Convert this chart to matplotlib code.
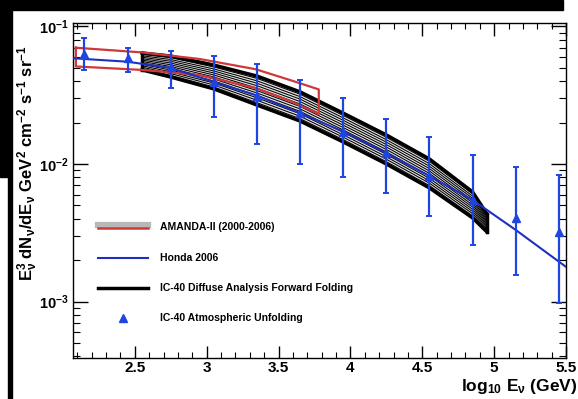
import numpy as np
import matplotlib
matplotlib.use('Agg')
import matplotlib.pyplot as plt
from matplotlib.ticker import MultipleLocator, LogLocator, NullFormatter
from matplotlib.patches import Rectangle

plt.rcParams['font.family'] = ['Liberation Sans', 'DejaVu Sans']
plt.rcParams['font.weight'] = 'bold'
plt.rcParams['mathtext.fontset'] = 'custom'
plt.rcParams['mathtext.rm'] = 'Liberation Sans:bold'
plt.rcParams['mathtext.it'] = 'Liberation Sans:bold'
plt.rcParams['mathtext.bf'] = 'Liberation Sans:bold'

# IC-40 atmospheric unfolding points
unf_x = [2.15, 2.45, 2.75, 3.05, 3.35, 3.65, 3.95, 4.25, 4.55, 4.85, 5.15, 5.45]
unf_y = [0.0630, 0.0586, 0.0506, 0.0394, 0.0314, 0.0234, 0.0172, 0.0120, 0.00818, 0.00548, 0.00405, 0.00322]
unf_hi = [0.0826, 0.0692, 0.0662, 0.0605, 0.0530, 0.0407, 0.0300, 0.0212, 0.0158, 0.0116, 0.00956, 0.00832]
unf_lo = [0.0482, 0.0468, 0.0356, 0.0218, 0.0140, 0.0100, 0.0081, 0.00612, 0.00419, 0.00258, 0.00156, 0.000984]

# Honda 2006 model
honda_x = [2.07, 2.45, 2.75, 3.05, 3.35, 3.65, 3.95, 4.25, 4.55, 4.85, 5.15, 5.5]
honda_y = [0.0586, 0.0553, 0.0498, 0.0394, 0.0314, 0.0234, 0.0172, 0.0120, 0.00818, 0.00548, 0.00332, 0.00179]

# AMANDA-II band
am_x = [2.09, 2.55, 2.95, 3.34, 3.58, 3.78]
am_up = [0.0699, 0.0646, 0.0579, 0.0488, 0.0407, 0.0348]
am_lo = [0.0511, 0.0482, 0.0443, 0.0356, 0.0287, 0.0231]

# IC-40 diffuse forward folding band
ff_x = [2.55, 2.75, 3.05, 3.35, 3.65, 3.95, 4.25, 4.55, 4.85, 4.95]
ff_up = [0.0640, 0.0608, 0.0523, 0.0435, 0.0334, 0.0234, 0.01626, 0.01087, 0.00627, 0.00434]
ff_lo = [0.0482, 0.0428, 0.0351, 0.0268, 0.0205, 0.01445, 0.0100, 0.00670, 0.00406, 0.00321]

red = '#d03838'
blue_line = '#1f2fc0'
blue_pt = '#1f45e0'

fig = plt.figure(figsize=(5.78, 3.99), dpi=100)
W, H = 578.0, 399.0
# black frame pieces of the screenshot
fig.patches.append(Rectangle((0, 1 - 10 / H), 563 / W, 10 / H, transform=fig.transFigure, color='black', zorder=0))
fig.patches.append(Rectangle((0, 1 - 177 / H), 12 / W, 177 / H, transform=fig.transFigure, color='black', zorder=0))
fig.patches.append(Rectangle((8 / W, 0), 4 / W, 1 - 177 / H, transform=fig.transFigure, color='black', zorder=0))

ax = fig.add_axes([73 / W, 1 - 358.3 / H, 493 / W, 335.6 / H])
ax.set_yscale('log')
ax.set_xlim(2.07, 5.5)
ax.set_ylim(3.88e-4, 0.1062)

# forward folding band
fx = np.array(ff_x)
up = np.array(ff_up)
lo = np.array(ff_lo)
ax.fill_between(fx, lo, up, color='#e4e4e4', lw=0, zorder=2)
for f in np.linspace(0.08, 0.92, 11):
    ax.plot(fx, up ** (1 - f) * lo ** f, color='black', lw=0.75, zorder=3)
ax.plot(fx, up, color='black', lw=2.5, zorder=3)
ax.plot(fx, lo, color='black', lw=2.5, zorder=3)
ax.plot([fx[0], fx[0]], [lo[0], up[0]], color='black', lw=2.5, zorder=3)
ax.plot([fx[-1], fx[-1]], [lo[-1], up[-1]], color='black', lw=2.5, zorder=3)

# AMANDA band outline
ax.plot(am_x + am_x[::-1] + [am_x[0]], am_up + am_lo[::-1] + [am_up[0]], color=red, lw=1.6, zorder=4)

# Honda
ax.plot(honda_x, honda_y, color=blue_line, lw=1.5, zorder=5)

# unfolding points
y = np.array(unf_y)
ax.errorbar(unf_x, unf_y, yerr=[y - np.array(unf_lo), np.array(unf_hi) - y], fmt='^',
            color=blue_pt, ms=6, elinewidth=1.6, capsize=2, capthick=1.4, zorder=6)

# ticks
ax.xaxis.set_minor_locator(MultipleLocator(0.1))
ax.yaxis.set_minor_locator(LogLocator(base=10, subs=np.arange(2, 10)))
ax.yaxis.set_minor_formatter(NullFormatter())
ax.set_xticks([2.5, 3, 3.5, 4, 4.5, 5, 5.5])
ax.set_xticklabels(['2.5', '3', '3.5', '4', '4.5', '5', '5.5'], fontsize=11, fontweight='bold')
ax.set_yticks([1e-3, 1e-2, 1e-1])
ax.set_yticklabels([r'$10^{-3}$', r'$10^{-2}$', r'$10^{-1}$'], fontsize=10.5)
ax.tick_params(axis='x', which='major', direction='in', length=9, width=1, top=True, pad=2)
ax.tick_params(axis='x', which='minor', direction='in', length=4, width=0.8, top=True)
ax.tick_params(axis='y', which='major', direction='in', length=11, width=1, right=True, pad=3)
ax.tick_params(axis='y', which='minor', direction='in', length=5, width=0.8, right=True)
for s in ax.spines.values():
    s.set_linewidth(1)

ax.text(-0.092, 0.58, r'E$^{3}_{\nu}$ dN$_{\nu}$/dE$_{\nu}$ GeV$^{2}$ cm$^{-2}$ s$^{-1}$ sr$^{-1}$',
        transform=ax.transAxes, rotation=90, ha='center', va='center', fontsize=12)
ax.text(0.905, -0.085, r'log$_{10}$ E$_{\nu}$ (GeV)', transform=ax.transAxes,
        ha='center', va='center', fontsize=12.5)

# legend
lx0, lx1, tx = 0.0507, 0.152, 0.1765
rows = [0.392, 0.298, 0.209, 0.119]
ax.plot([lx0, lx1], [rows[0] + 0.004, rows[0] + 0.004], color='#b8b8b8', lw=4.5, transform=ax.transAxes)
ax.plot([lx0, lx1], [rows[0] - 0.004, rows[0] - 0.004], color=red, lw=1.8, transform=ax.transAxes)
ax.plot([lx0, lx1], [rows[1], rows[1]], color=blue_line, lw=1.5, transform=ax.transAxes)
ax.plot([lx0, lx1], [rows[2], rows[2]], color='black', lw=2.5, transform=ax.transAxes)
ax.plot([0.101], [rows[3]], marker='^', color=blue_pt, ms=6, transform=ax.transAxes)
labels = ['AMANDA-II (2000-2006)', 'Honda 2006', 'IC-40 Diffuse Analysis Forward Folding', 'IC-40 Atmospheric Unfolding']
for r, t in zip(rows, labels):
    ax.text(tx, r, t, transform=ax.transAxes, ha='left', va='center', fontsize=7.5, fontweight='bold')

fig.savefig('out.png', dpi=100)
